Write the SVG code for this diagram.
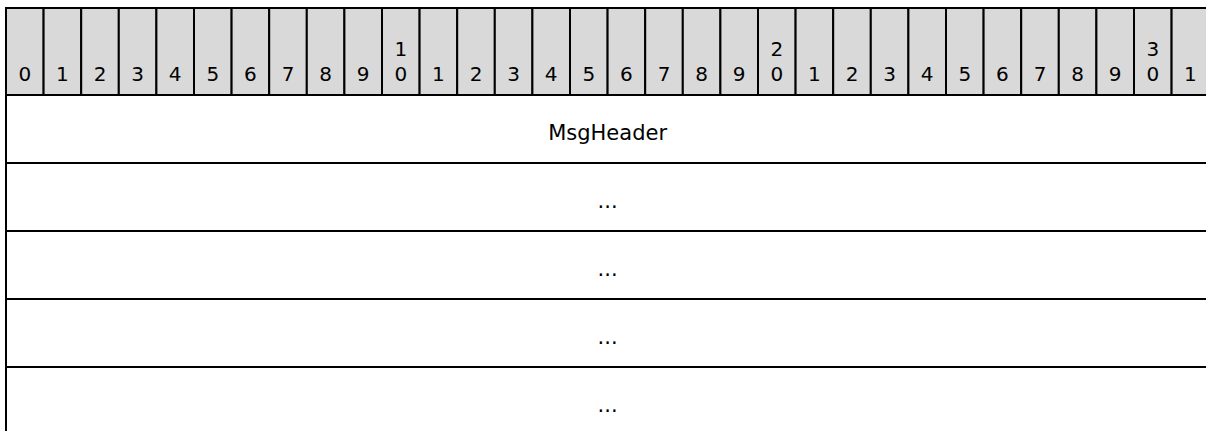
<svg xmlns="http://www.w3.org/2000/svg" width="1206" height="431" viewBox="0 0 1206 431">
<style>
.hdr{fill:#d9d9d9;stroke:#000;stroke-width:2}
.cell{fill:#fff;stroke:#000;stroke-width:2}
.n{font-family:"DejaVu Sans",Verdana,sans-serif;font-size:20px;fill:#000;text-anchor:middle}
.t{font-family:"DejaVu Sans",Verdana,sans-serif;font-size:21px;fill:#000;text-anchor:middle}
</style>
<rect width="1206" height="431" fill="#fff"/>
<g id="bit-header">
<rect class="hdr" x="6" y="8" width="37.6" height="87"/><text class="n" x="24.8" y="81">0</text>
<rect class="hdr" x="43.6" y="8" width="37.6" height="87"/><text class="n" x="62.4" y="81">1</text>
<rect class="hdr" x="81.2" y="8" width="37.6" height="87"/><text class="n" x="100" y="81">2</text>
<rect class="hdr" x="118.8" y="8" width="37.6" height="87"/><text class="n" x="137.6" y="81">3</text>
<rect class="hdr" x="156.4" y="8" width="37.6" height="87"/><text class="n" x="175.2" y="81">4</text>
<rect class="hdr" x="194" y="8" width="37.6" height="87"/><text class="n" x="212.8" y="81">5</text>
<rect class="hdr" x="231.6" y="8" width="37.6" height="87"/><text class="n" x="250.4" y="81">6</text>
<rect class="hdr" x="269.2" y="8" width="37.6" height="87"/><text class="n" x="288" y="81">7</text>
<rect class="hdr" x="306.8" y="8" width="37.6" height="87"/><text class="n" x="325.6" y="81">8</text>
<rect class="hdr" x="344.4" y="8" width="37.6" height="87"/><text class="n" x="363.2" y="81">9</text>
<rect class="hdr" x="382" y="8" width="37.6" height="87"/><text class="n" x="400.8" y="56">1</text><text class="n" x="400.8" y="81">0</text>
<rect class="hdr" x="419.6" y="8" width="37.6" height="87"/><text class="n" x="438.4" y="81">1</text>
<rect class="hdr" x="457.2" y="8" width="37.6" height="87"/><text class="n" x="476" y="81">2</text>
<rect class="hdr" x="494.8" y="8" width="37.6" height="87"/><text class="n" x="513.6" y="81">3</text>
<rect class="hdr" x="532.4" y="8" width="37.6" height="87"/><text class="n" x="551.2" y="81">4</text>
<rect class="hdr" x="570" y="8" width="37.6" height="87"/><text class="n" x="588.8" y="81">5</text>
<rect class="hdr" x="607.6" y="8" width="37.6" height="87"/><text class="n" x="626.4" y="81">6</text>
<rect class="hdr" x="645.2" y="8" width="37.6" height="87"/><text class="n" x="664" y="81">7</text>
<rect class="hdr" x="682.8" y="8" width="37.6" height="87"/><text class="n" x="701.6" y="81">8</text>
<rect class="hdr" x="720.4" y="8" width="37.6" height="87"/><text class="n" x="739.2" y="81">9</text>
<rect class="hdr" x="758" y="8" width="37.6" height="87"/><text class="n" x="776.8" y="56">2</text><text class="n" x="776.8" y="81">0</text>
<rect class="hdr" x="795.6" y="8" width="37.6" height="87"/><text class="n" x="814.4" y="81">1</text>
<rect class="hdr" x="833.2" y="8" width="37.6" height="87"/><text class="n" x="852" y="81">2</text>
<rect class="hdr" x="870.8" y="8" width="37.6" height="87"/><text class="n" x="889.6" y="81">3</text>
<rect class="hdr" x="908.4" y="8" width="37.6" height="87"/><text class="n" x="927.2" y="81">4</text>
<rect class="hdr" x="946" y="8" width="37.6" height="87"/><text class="n" x="964.8" y="81">5</text>
<rect class="hdr" x="983.6" y="8" width="37.6" height="87"/><text class="n" x="1002.4" y="81">6</text>
<rect class="hdr" x="1021.2" y="8" width="37.6" height="87"/><text class="n" x="1040" y="81">7</text>
<rect class="hdr" x="1058.8" y="8" width="37.6" height="87"/><text class="n" x="1077.6" y="81">8</text>
<rect class="hdr" x="1096.4" y="8" width="37.6" height="87"/><text class="n" x="1115.2" y="81">9</text>
<rect class="hdr" x="1134" y="8" width="37.6" height="87"/><text class="n" x="1152.8" y="56">3</text><text class="n" x="1152.8" y="81">0</text>
<rect class="hdr" x="1171.6" y="8" width="37.6" height="87"/><text class="n" x="1190.4" y="81">1</text>
</g>
<g id="field-msgheader"><rect class="cell" x="6" y="95" width="1203.2" height="68"/><text class="t" x="607.6" y="140">MsgHeader</text></g>
<g id="field-2"><rect class="cell" x="6" y="163" width="1203.2" height="68"/><text class="t" x="607.6" y="208">...</text></g>
<g id="field-3"><rect class="cell" x="6" y="231" width="1203.2" height="68"/><text class="t" x="607.6" y="276">...</text></g>
<g id="field-4"><rect class="cell" x="6" y="299" width="1203.2" height="68"/><text class="t" x="607.6" y="344">...</text></g>
<g id="field-5"><rect class="cell" x="6" y="367" width="1203.2" height="68"/><text class="t" x="607.6" y="412">...</text></g>
</svg>
